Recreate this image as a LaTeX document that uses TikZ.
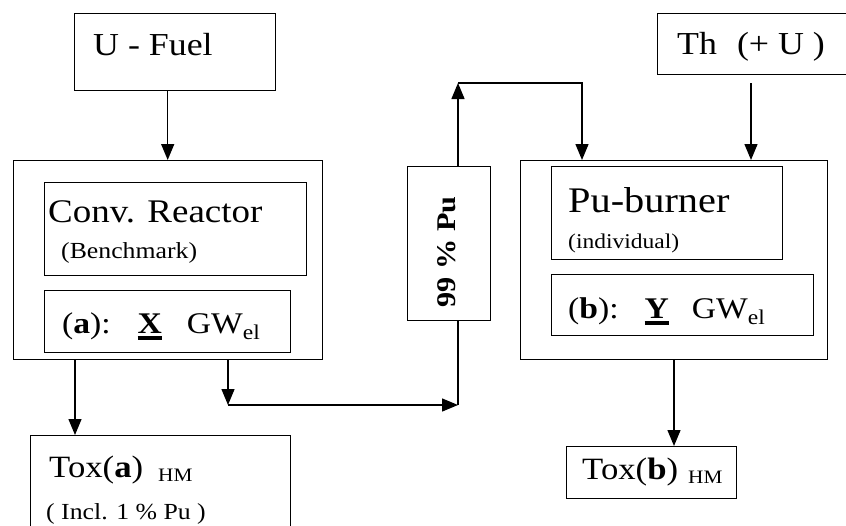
\documentclass[tikz,border=0pt]{standalone}
\usepackage{fontspec}
\setmainfont[FakeStretch=1.12]{Liberation Serif}
\usetikzlibrary{arrows.meta}
\newcommand\fs[1]{\fontsize{#1}{#1}\selectfont}
\newcommand\thickul[1]{\setbox0\hbox{#1}\rlap{\rule[-6.5pt]{\wd0}{4pt}}\box0}
\tikzset{
  box/.style={draw, rectangle, anchor=north west, inner sep=0pt, line width=1.4pt},
  txt/.style={anchor=base west, inner sep=0pt},
  arr/.style={line width=1.4pt, -{Triangle[length=16pt,width=13pt]}},
  ln/.style={line width=1.4pt}
}
\begin{document}
\begin{tikzpicture}[x=1pt,y=-1pt]
\useasboundingbox (0,0) rectangle (846,525);
\clip (0,0) rectangle (846,525);
\fill[white] (0,0) rectangle (846,525);
% boxes
\node[box, minimum width=201pt, minimum height=77pt] (ufuel) at (74,13) {};
\node[box, minimum width=309pt, minimum height=199pt] (left) at (13,160) {};
\node[box, minimum width=262pt, minimum height=93pt] (conv) at (44,182) {};
\node[box, minimum width=246pt, minimum height=62pt] (abox) at (44,290) {};
\node[box, minimum width=260pt, minimum height=100pt] (toxa) at (30,435) {};
\node[box, minimum width=83pt, minimum height=154pt] (pu) at (407,166) {};
\node[box, minimum width=200pt, minimum height=61pt] (th) at (657,13) {};
\node[box, minimum width=307pt, minimum height=199pt] (right) at (520,160) {};
\node[box, minimum width=231pt, minimum height=93pt] (burn) at (551,166) {};
\node[box, minimum width=262pt, minimum height=61pt] (bbox) at (551,274) {};
\node[box, minimum width=170pt, minimum height=52pt] (toxb) at (566,446) {};
% texts
\node[txt] (t1) at (93,55) {\fs{32}U - Fuel};
\node[txt] (t2) at (48,222) {\fs{33}Conv. Reactor};
\node[txt] (t3) at (61,258) {\fs{23}(Benchmark)};
\node[txt] (t4) at (62,333) {\fs{30}(\textbf{a}):\hspace{27pt}\thickul{\textbf{X}}\hspace{25pt}GW\textsubscript{el}};
\node[txt] (t5) at (49,477) {\fs{31}Tox(\textbf{a})\hspace{15pt}\raisebox{-4pt}{\fs{19}HM}};
\node[txt] (t6) at (46,519.5) {\fs{23}( Incl. 1 \% Pu )};
\node[txt] (t7) at (568,212) {\fs{36}Pu-burner};
\node[txt] (t8) at (568,248) {\fs{21}(individual)};
\node[txt] (t9) at (568,318) {\fs{30}(\textbf{b}):\hspace{26pt}\thickul{\textbf{Y}}\hspace{23pt}GW\textsubscript{el}};
\node[txt] (t10) at (582,479) {\fs{31}Tox(\textbf{b})\hspace{10pt}\raisebox{-4pt}{\fs{19}HM}};
\node[txt] (t11) at (677,54) {\fs{32}Th\hspace{20pt}(+ U )};
\node[rotate=90, anchor=base, inner sep=0pt] (t12) at (455,252) {\fs{27}\textbf{99 \% Pu}};
% junction points
\coordinate (j1) at (228,405);
\coordinate (j2) at (458,405);
\coordinate (j3) at (458,83);
\coordinate (j4) at (582,83);
\coordinate (j5) at (751,83);
% connectors
\draw[arr] ([xshift=-7.5pt]ufuel.south) -- ([xshift=-7.5pt]ufuel.south |- left.north);
\draw[arr] (left.south -| 75,0) -- (toxa.north -| 75,0);
\draw[arr] (left.south -| j1) -- (j1);
\draw[arr] (j1) -- (j2);
\draw[ln] (j2) -- (pu.south -| j2);
\draw[arr] (pu.north -| j3) -- (j3);
\draw[arr] (j3) -- (j4) -- (j4 |- right.north);
\draw[arr] (j5) -- (j5 |- right.north);
\draw[arr] (right.south -| 674,0) -- (toxb.north -| 674,0);
\end{tikzpicture}
\end{document}
